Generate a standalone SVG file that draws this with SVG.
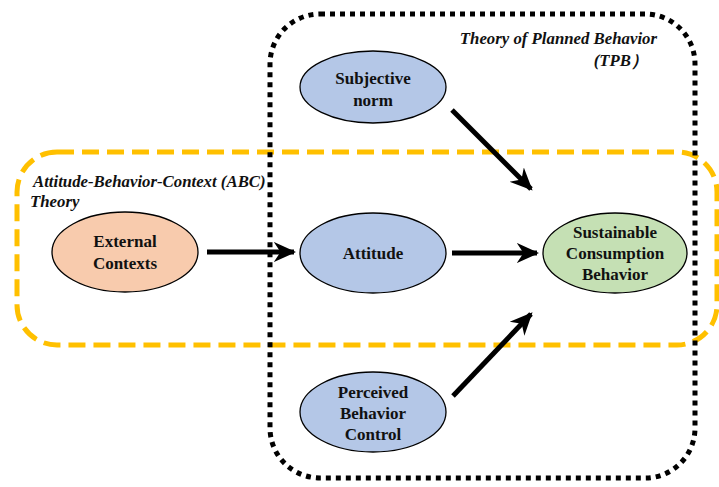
<svg xmlns="http://www.w3.org/2000/svg" width="719" height="487" viewBox="0 0 719 487">
  <style>
    .frame-abc { fill: none; stroke: #FFC000; stroke-width: 5; stroke-dasharray: 17 8; }
    .frame-tpb { fill: none; stroke: #000; stroke-width: 5; stroke-dasharray: 5 5; }
    .node { stroke: #000; stroke-width: 1.3; }
    .blue { fill: #B4C7E7; }
    .orange { fill: #F8CBAD; }
    .green { fill: #C5E0B4; }
    .label { font-family: "Liberation Serif", "Times New Roman", serif; font-weight: bold; font-size: 17px; fill: #111; text-anchor: middle; }
    .title { font-family: "Liberation Serif", "Times New Roman", serif; font-weight: bold; font-style: italic; font-size: 16.8px; fill: #111; }
    .edge { stroke: #000; stroke-width: 5; fill: none; marker-end: url(#head); }
  </style>
  <defs>
    <marker id="head" viewBox="0 0 10 10" refX="9" refY="5" markerWidth="4.5" markerHeight="4.5" orient="auto" markerUnits="strokeWidth">
      <path d="M0,0.5 L10,5 L0,9.5 L3,5 Z" fill="#000"/>
    </marker>
  </defs>

  <rect width="719" height="487" fill="#fff"/>

  <!-- ABC theory frame -->
  <g id="frame-abc">
    <rect class="frame-abc" x="17" y="152" width="700" height="193" rx="40" ry="40"/>
    <text class="title" x="33" y="187">Attitude-Behavior-Context (ABC)</text>
    <text class="title" x="30" y="207">Theory</text>
  </g>

  <!-- TPB frame -->
  <g id="frame-tpb">
    <rect class="frame-tpb" x="270" y="14" width="425" height="464" rx="50" ry="50"/>
    <text class="title" x="657" y="44" text-anchor="end">Theory of Planned Behavior</text>
    <text class="title" x="648" y="66" text-anchor="end">(TPB）</text>
  </g>

  <!-- connectors -->
  <g id="connectors">
    <line class="edge" x1="207" y1="252" x2="294" y2="252"/>
    <line class="edge" x1="452" y1="253" x2="537" y2="253"/>
    <line class="edge" x1="452" y1="110" x2="531" y2="189"/>
    <line class="edge" x1="453" y1="396" x2="531" y2="314"/>
  </g>

  <g id="subjective-norm">
    <ellipse class="node blue" cx="373" cy="87" rx="73" ry="36"/>
    <text class="label" x="373" y="84">Subjective</text>
    <text class="label" x="373" y="106">norm</text>
  </g>

  <g id="external-contexts">
    <ellipse class="node orange" cx="125" cy="252" rx="73" ry="40"/>
    <text class="label" x="125" y="247">External</text>
    <text class="label" x="125" y="269">Contexts</text>
  </g>

  <g id="attitude">
    <ellipse class="node blue" cx="373" cy="253" rx="73" ry="40"/>
    <text class="label" x="373" y="259">Attitude</text>
  </g>

  <g id="sustainable-consumption">
    <ellipse class="node green" cx="615" cy="253" rx="72" ry="40"/>
    <text class="label" x="615" y="238">Sustainable</text>
    <text class="label" x="615" y="259">Consumption</text>
    <text class="label" x="615" y="280">Behavior</text>
  </g>

  <g id="perceived-control">
    <ellipse class="node blue" cx="373" cy="412" rx="73" ry="40"/>
    <text class="label" x="373" y="398">Perceived</text>
    <text class="label" x="373" y="419">Behavior</text>
    <text class="label" x="373" y="440">Control</text>
  </g>
</svg>
